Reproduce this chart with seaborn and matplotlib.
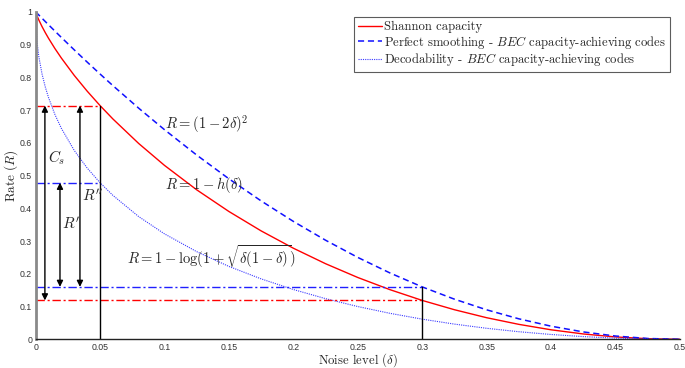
import numpy as np
import pandas as pd
import matplotlib
matplotlib.use("Agg")
import matplotlib.pyplot as plt
import seaborn as sns

# noise levels (delta) and the three rate curves
delta = [0, 0.001, 0.0025, 0.005, 0.0075, 0.01, 0.015, 0.02, 0.03, 0.04, 0.05,
         0.06, 0.08, 0.1, 0.125, 0.15, 0.175, 0.2, 0.225, 0.25, 0.275, 0.3,
         0.325, 0.35, 0.375, 0.4, 0.425, 0.45, 0.475, 0.5]
shannon = [1.0, 0.9886, 0.9748, 0.9546, 0.9363, 0.9192, 0.8876, 0.8586, 0.8056,
           0.7577, 0.7136, 0.6726, 0.5978, 0.5310, 0.4564, 0.3902, 0.3310, 0.2781,
           0.2308, 0.1887, 0.1515, 0.1187, 0.0903, 0.0659, 0.0456, 0.0290, 0.0163,
           0.0072, 0.0018, 0.0]
smoothing = [1.0, 0.9960, 0.9900, 0.9801, 0.9702, 0.9604, 0.9409, 0.9216, 0.8836,
             0.8464, 0.81, 0.7744, 0.7056, 0.64, 0.5625, 0.49, 0.4225, 0.36, 0.3025,
             0.25, 0.2025, 0.16, 0.1225, 0.09, 0.0625, 0.04, 0.0225, 0.01, 0.0025, 0.0]
decodability = [1.0, 0.9116, 0.8627, 0.8096, 0.7703, 0.7382, 0.6861, 0.6439, 0.5765,
                0.5229, 0.4781, 0.4393, 0.3746, 0.3219, 0.2676, 0.2225, 0.1845, 0.1520,
                0.1241, 0.1000, 0.0793, 0.0615, 0.0464, 0.0336, 0.0231, 0.0147, 0.0082,
                0.0036, 0.0009, 0.0]

labels = ["Shannon capacity",
          "Perfect smoothing - $BEC$ capacity-achieving codes",
          "Decodability - $BEC$ capacity-achieving codes"]

# reference levels used for the gap annotations
d_low, d_high = 0.05, 0.3
r_shannon_low, r_shannon_high = 0.7136, 0.1187
r_decod_low, r_smooth_high = 0.4781, 0.16

sns.set_style("white")
plt.rcParams["mathtext.fontset"] = "cm"
serif = ["cmr10", "DejaVu Serif"]

df = pd.DataFrame({"delta": delta, "shannon": shannon,
                   "smoothing": smoothing, "decodability": decodability})

fig = plt.figure(figsize=(6.85, 3.68), dpi=100)
ax = fig.add_axes([0.052, 0.078, 0.9406, 0.89])

sns.lineplot(data=df, x="delta", y="shannon", color="red", lw=1.0, ax=ax,
             label=labels[0])
sns.lineplot(data=df, x="delta", y="smoothing", color="#1010ff", lw=1.1,
             linestyle=(0, (4, 2.5)), ax=ax, label=labels[1])
sns.lineplot(data=df, x="delta", y="decodability", color="#3a3aff", lw=0.8,
             linestyle=(0, (1, 1)), ax=ax, label=labels[2])

# dash-dot reference levels
dd = (0, (6, 2, 1.5, 2))
ax.plot([0, d_low], [r_shannon_low] * 2, color="red", lw=1.0, linestyle=dd)
ax.plot([0, d_high], [r_shannon_high] * 2, color="red", lw=1.0, linestyle=dd)
ax.plot([0, d_low], [r_decod_low] * 2, color="#2020ff", lw=1.0, linestyle=dd)
ax.plot([0, d_high], [r_smooth_high] * 2, color="#2020ff", lw=1.0, linestyle=dd)
ax.plot([d_low, d_low], [0, r_shannon_low], color="black", lw=1.0)
ax.plot([d_high, d_high], [0, r_smooth_high], color="black", lw=1.0)

# double arrows
arr = dict(arrowstyle="<|-|>", color="black", lw=1.0, mutation_scale=9,
           shrinkA=0, shrinkB=0)
ax.annotate("", xy=(0.0072, r_shannon_low), xytext=(0.0072, r_shannon_high),
            arrowprops=arr)
ax.annotate("", xy=(0.0189, r_decod_low), xytext=(0.0189, r_smooth_high),
            arrowprops=arr)
ax.annotate("", xy=(0.0344, r_shannon_low), xytext=(0.0344, r_smooth_high),
            arrowprops=arr)

ax.text(0.0093, 0.553, "$C_s$", fontsize=11, va="center")
ax.text(0.0205, 0.352, "$R'$", fontsize=11, va="center")
ax.text(0.0362, 0.437, "$R''$", fontsize=11, va="center")

ax.text(0.1004, 0.656, r"$R = (1-2\delta)^2$", fontsize=10.5, va="center")
ax.text(0.1004, 0.471, r"$R = 1-h(\delta)$", fontsize=10.5, va="center")
ax.text(0.0708, 0.252, r"$R = 1-\log(1+\sqrt{\delta(1-\delta)})$",
        fontsize=10.5, va="center")

ax.set_xlim(0, 0.5)
ax.set_ylim(0, 1)
xt = np.arange(0, 0.501, 0.05)
yt = np.arange(0, 1.001, 0.1)
ax.set_xticks(xt)
ax.set_yticks(yt)
ax.set_xticklabels(["0"] + [f"{v:g}" for v in xt[1:]])
ax.set_yticklabels(["0"] + [f"{v:g}" for v in yt[1:]])
ax.tick_params(direction="in", length=5, width=1, labelsize=6.3,
               colors="#222222", labelcolor="#333333", pad=2.5)
for lab in ax.get_xticklabels() + ax.get_yticklabels():
    lab.set_family(["Liberation Sans", "DejaVu Sans"])

ax.set_xlabel(r"Noise level ($\delta$)", fontsize=9.2, family=serif, labelpad=-0.5)
ax.set_ylabel(r"Rate ($R$)", fontsize=9.5, family=serif, labelpad=0)

sns.despine(ax=ax)
ax.spines["left"].set_color("#8a8a8a")
ax.spines["left"].set_linewidth(2.0)
ax.spines["bottom"].set_color("#222222")
ax.spines["bottom"].set_linewidth(1.0)

leg = ax.legend(loc="upper right", bbox_to_anchor=(0.99, 0.995),
                bbox_transform=ax.transAxes, prop={"family": serif, "size": 9.1},
                frameon=True, fancybox=False, edgecolor="#333333",
                handlelength=1.9, handletextpad=0.2, borderpad=0.3,
                labelspacing=0.05, borderaxespad=0.3)
leg.get_frame().set_linewidth(0.8)

fig.savefig("out.png", dpi=100)
